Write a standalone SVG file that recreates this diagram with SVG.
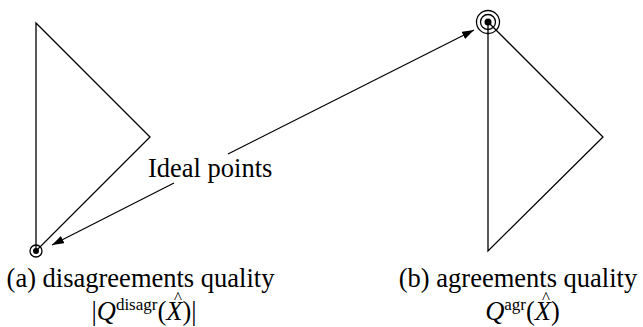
<svg xmlns="http://www.w3.org/2000/svg" width="643" height="327" viewBox="0 0 643 327">
<style>
.edge{fill:none;stroke:#000;stroke-width:1.3}
.ring{fill:none;stroke:#000;stroke-width:1.3}
.dot{fill:#000}
text{font-family:"Liberation Serif","Times New Roman",serif;fill:#000}
.cap{font-size:26.5px}
.it{font-style:italic}
.sup{font-size:17px}
.hat{font-size:17px}
.conn{fill:none;stroke:#000;stroke-width:1.2}
</style>
<defs>
<marker id="ah" markerUnits="userSpaceOnUse" markerWidth="14" markerHeight="10" refX="12" refY="4" orient="auto">
<path d="M0,0 L12,4 L0,8 Z" fill="#000"/>
</marker>
</defs>
<rect width="643" height="327" fill="#fff"/>
<g id="triangle-a">
<polygon class="edge" points="36,23 150,137 36,251"/>
<circle class="ring" cx="36" cy="251" r="6"/>
<circle class="dot" cx="36" cy="251" r="3"/>
</g>
<g id="triangle-b">
<polygon class="edge" points="488,22 603,137 488,251"/>
<circle class="ring" cx="488" cy="22" r="11.5"/>
<circle class="ring" cx="488" cy="22" r="7.5"/>
<circle class="dot" cx="488" cy="22" r="3.5"/>
</g>
<g id="label-ideal">
<text class="cap" x="148" y="177">Ideal points</text>
</g>
<g id="connectors">
<line class="conn" x1="174" y1="183" x2="52" y2="245" marker-end="url(#ah)"/>
<line class="conn" x1="228" y1="154" x2="474" y2="30" marker-end="url(#ah)"/>
</g>
<g id="caption-a">
<text class="cap" x="140.5" y="287" text-anchor="middle">(a) disagreements quality</text>
<text class="cap" x="144" y="320" text-anchor="middle">|<tspan class="it">Q</tspan><tspan class="sup" dy="-10">disagr</tspan><tspan dy="10">(</tspan><tspan class="it">X</tspan>)|</text>
<text class="hat" x="178" y="303" text-anchor="middle">^</text>
</g>
<g id="caption-b">
<text class="cap" x="518" y="287" text-anchor="middle">(b) agreements quality</text>
<text class="cap" x="522.5" y="320" text-anchor="middle"><tspan class="it">Q</tspan><tspan class="sup" dy="-10">agr</tspan><tspan dy="10">(</tspan><tspan class="it">X</tspan>)</text>
<text class="hat" x="546" y="303" text-anchor="middle">^</text>
</g>
</svg>
